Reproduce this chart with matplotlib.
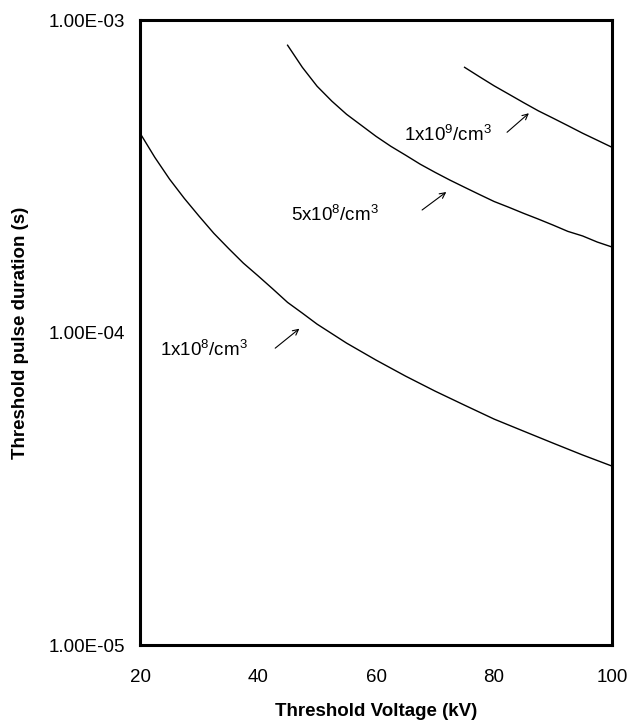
import numpy as np
import matplotlib
matplotlib.use("Agg")
import matplotlib.pyplot as plt
from matplotlib.ticker import FixedLocator, FuncFormatter, NullLocator

plt.rcParams['font.family'] = ['Liberation Sans', 'DejaVu Sans']
plt.rcParams['mathtext.fontset'] = 'custom'
plt.rcParams['mathtext.rm'] = 'Liberation Sans'
plt.rcParams['mathtext.it'] = 'Liberation Sans'

# threshold pulse duration (s) vs threshold voltage (kV), one curve per density
v_1e8 = [20, 22.5, 25, 27.5, 30, 32.5, 35, 37.5, 40, 42.5, 45, 47.5, 50,
         55, 60, 65, 70, 75, 80, 85, 90, 95, 100]
t_1e8 = [4.35e-4, 3.64e-4, 3.10e-4, 2.69e-4, 2.36e-4, 2.08e-4, 1.86e-4,
         1.67e-4, 1.52e-4, 1.38e-4, 1.25e-4, 1.155e-4, 1.065e-4,
         9.26e-5, 8.17e-5, 7.26e-5, 6.50e-5, 5.86e-5, 5.29e-5, 4.84e-5,
         4.43e-5, 4.06e-5, 3.74e-5]

v_5e8 = [45, 47.5, 50, 52.5, 55, 57.5, 60, 62.5, 65, 67.5, 70, 72.5, 75,
         77.5, 80, 82.5, 85, 87.5, 90, 92.5, 95, 97.5, 100]
t_5e8 = [8.32e-4, 7.07e-4, 6.15e-4, 5.51e-4, 5.00e-4, 4.61e-4, 4.25e-4,
         3.95e-4, 3.70e-4, 3.46e-4, 3.26e-4, 3.08e-4, 2.92e-4, 2.77e-4,
         2.63e-4, 2.52e-4, 2.41e-4, 2.31e-4, 2.21e-4, 2.11e-4, 2.04e-4,
         1.95e-4, 1.88e-4]

v_1e9 = [75, 77.5, 80, 82.5, 85, 87.5, 90, 92.5, 95, 97.5, 100]
t_1e9 = [7.07e-4, 6.60e-4, 6.17e-4, 5.80e-4, 5.45e-4, 5.13e-4, 4.86e-4,
         4.60e-4, 4.35e-4, 4.13e-4, 3.92e-4]

labels = ['1x10$^8$/cm$^3$', '5x10$^8$/cm$^3$', '1x10$^9$/cm$^3$']
# label position, arrow tail, arrow head (kV, s)
label_xy = [(23.4, 8.8e-5), (45.6, 2.38e-4), (64.7, 4.29e-4)]
arrow_from = [(42.9, 8.92e-5), (67.8, 2.47e-4), (82.2, 4.38e-4)]
arrow_to = [(47.0, 1.03e-4), (71.9, 2.82e-4), (85.9, 5.04e-4)]

yticks = [1e-5, 1e-4, 1e-3]
xticks = [20, 40, 60, 80, 100]

fig = plt.figure(figsize=(6.31, 7.24), dpi=100)
ax = fig.add_axes([0.222, 0.109, 0.748, 0.863])

for v, t in [(v_1e8, t_1e8), (v_5e8, t_5e8), (v_1e9, t_1e9)]:
    ax.plot(v, t, color='black', lw=1.0)

for lab, (tx, ty), tail, head in zip(labels, label_xy, arrow_from, arrow_to):
    ax.text(tx, ty, lab, fontsize=13.5, va='center', ha='left')
    ax.annotate('', xy=head, xytext=tail,
                arrowprops=dict(arrowstyle='->', lw=0.8, color='black',
                                mutation_scale=10, shrinkA=0, shrinkB=0))

ax.set_yscale('log')
ax.set_xlim(20, 100)
ax.set_ylim(1e-5, 1e-3)
ax.xaxis.set_major_locator(FixedLocator(xticks))
ax.yaxis.set_major_locator(FixedLocator(yticks))
ax.yaxis.set_minor_locator(NullLocator())
ax.yaxis.set_major_formatter(FuncFormatter(lambda v, p: f'{v:.2E}'))
ax.tick_params(axis='both', length=0, labelsize=13.5)
ax.tick_params(axis='x', pad=17)
ax.tick_params(axis='y', pad=11)

for s in ax.spines.values():
    s.set_linewidth(2.2)

ax.set_xlabel('Threshold Voltage (kV)', fontsize=13.5, fontweight='bold')
ax.set_ylabel('Threshold pulse duration (s)', fontsize=13.5, fontweight='bold')
ax.xaxis.set_label_coords(0.5, -0.093)
ax.yaxis.set_label_coords(-0.235, 0.5)

fig.savefig('out.png', dpi=100)
